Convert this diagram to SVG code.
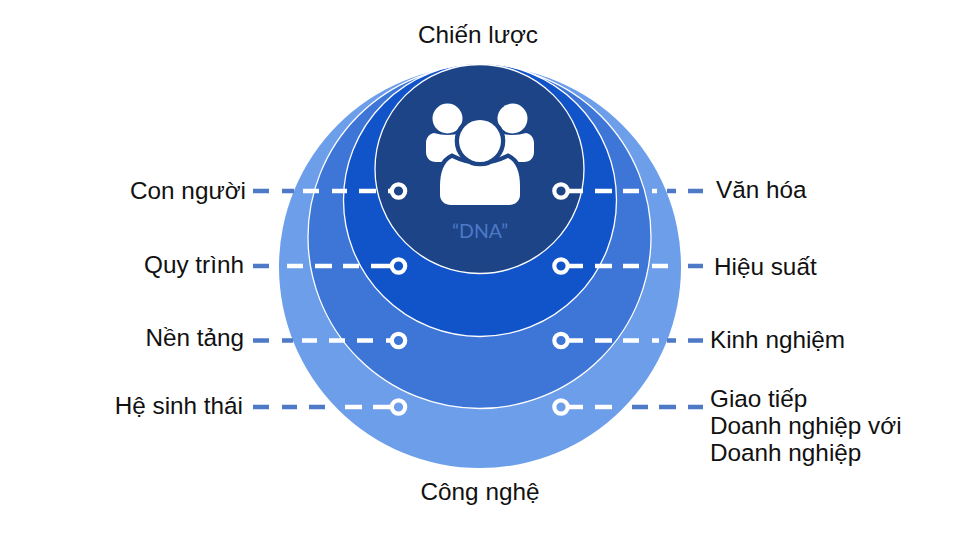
<svg xmlns="http://www.w3.org/2000/svg" width="960" height="540" viewBox="0 0 960 540">
<style>
.lbl{font-family:"Liberation Sans",Arial,sans-serif;font-size:24.3px;fill:#111}
.c{stroke:#fff;stroke-width:1.3}
.b{stroke:#4d79c7;stroke-width:4.6;fill:none}
.w{stroke:#fff;stroke-width:4.6;fill:none}
.ring{fill:none;stroke:#fff;stroke-width:4.2}
.gap{fill:#fff;stroke:#1c4487;stroke-width:8.6;paint-order:stroke}
</style>
<rect width="960" height="540" fill="#fff"/>
<g id="circles">
<circle id="outer" cx="480" cy="267" r="201" fill="#6d9eea"/>
<circle id="ring2" class="c" cx="479.5" cy="237" r="171.5" fill="#3d76d6"/>
<circle id="ring3" class="c" cx="480" cy="200" r="136.5" fill="#1153c9"/>
<circle id="core" class="c" cx="479.5" cy="169" r="104.5" fill="#1c4487"/>
</g>
<g id="icon">
<circle cx="447.500" cy="118.500" r="15" fill="#fff"/>
<circle cx="512.500" cy="118.500" r="15" fill="#fff"/>
<path d="M434 133Q447 137 462 133L474 140V162H436C430 162 426 158 426 152V143C426 138 429 134 434 133Z" fill="#fff"/>
<path d="M526 133Q513 137 498 133L486 140V162H524C530 162 534 158 534 152V143C534 138 531 134 526 133Z" fill="#fff"/>
<path class="gap" d="M452 158Q480 172 508 158C516 162 520 172 520 186V195C520 201 515 205 509 205H451C445 205 440 201 440 195V186C440 172 444 162 452 158Z"/>
<circle class="gap" cx="480" cy="141" r="21"/>
<text id="dna" x="480" y="238" text-anchor="middle" font-family="Lato,'Open Sans',sans-serif" font-size="19.500" fill="#4d79c7">“DNA”</text>
</g>
<g id="connectors">
<path class="b" d="M253 191H269M282 191H294M253 266H269M253 340.500H269M282 340.500H293M253 407H269M282 407H297M309 407H325M667 191H676M688 191H703M688 266H703M667 340.500H676M688 340.500H703M632 407H648M659 407H676M688 407H703"/>
<path class="w" d="M303 191H319M332 191H347M359 191H376M388 191H393M287 266H303M315 266H332M343 266H359M371 266H393M302 340.500H317M329 340.500H345M357 340.500H373M386 340.500H393M345 407H362M373 407H393M567 191H583M595 191H612M623 191H639M652 191H657M567 266H583M595 266H612M623 266H639M652 266H668M567 340.500H583M595 340.500H612M623 340.500H639M652 340.500H659M567 407H583M595 407H612"/>
</g>
<g id="n-con-nguoi"><circle class="ring" cx="398.500" cy="191" r="6.700"/><text class="lbl" x="246" y="199" text-anchor="end">Con người</text></g>
<g id="n-quy-trinh"><circle class="ring" cx="398.500" cy="266" r="6.700"/><text class="lbl" x="244" y="273" text-anchor="end">Quy trình</text></g>
<g id="n-nen-tang"><circle class="ring" cx="398.500" cy="340.500" r="6.700"/><text class="lbl" x="244" y="346" text-anchor="end">Nền tảng</text></g>
<g id="n-he-sinh-thai"><circle class="ring" cx="398.500" cy="407" r="6.700"/><text class="lbl" x="243" y="414" text-anchor="end">Hệ sinh thái</text></g>
<g id="n-van-hoa"><circle class="ring" cx="561" cy="191" r="6.700"/><text class="lbl" x="716" y="198">Văn hóa</text></g>
<g id="n-hieu-suat"><circle class="ring" cx="561" cy="266" r="6.700"/><text class="lbl" x="714" y="275">Hiệu suất</text></g>
<g id="n-kinh-nghiem"><circle class="ring" cx="561" cy="340.500" r="6.700"/><text class="lbl" x="710" y="348">Kinh nghiệm</text></g>
<g id="n-giao-tiep"><circle class="ring" cx="561" cy="407" r="6.700"/><text class="lbl" x="710" y="407">Giao tiếp</text><text class="lbl" x="710" y="434">Doanh nghiệp với</text><text class="lbl" x="710" y="461">Doanh nghiệp</text></g>
<g id="n-chien-luoc"><text class="lbl" x="478" y="43" text-anchor="middle">Chiến lược</text></g>
<g id="n-cong-nghe"><text class="lbl" x="480" y="500" text-anchor="middle">Công nghệ</text></g>
</svg>
